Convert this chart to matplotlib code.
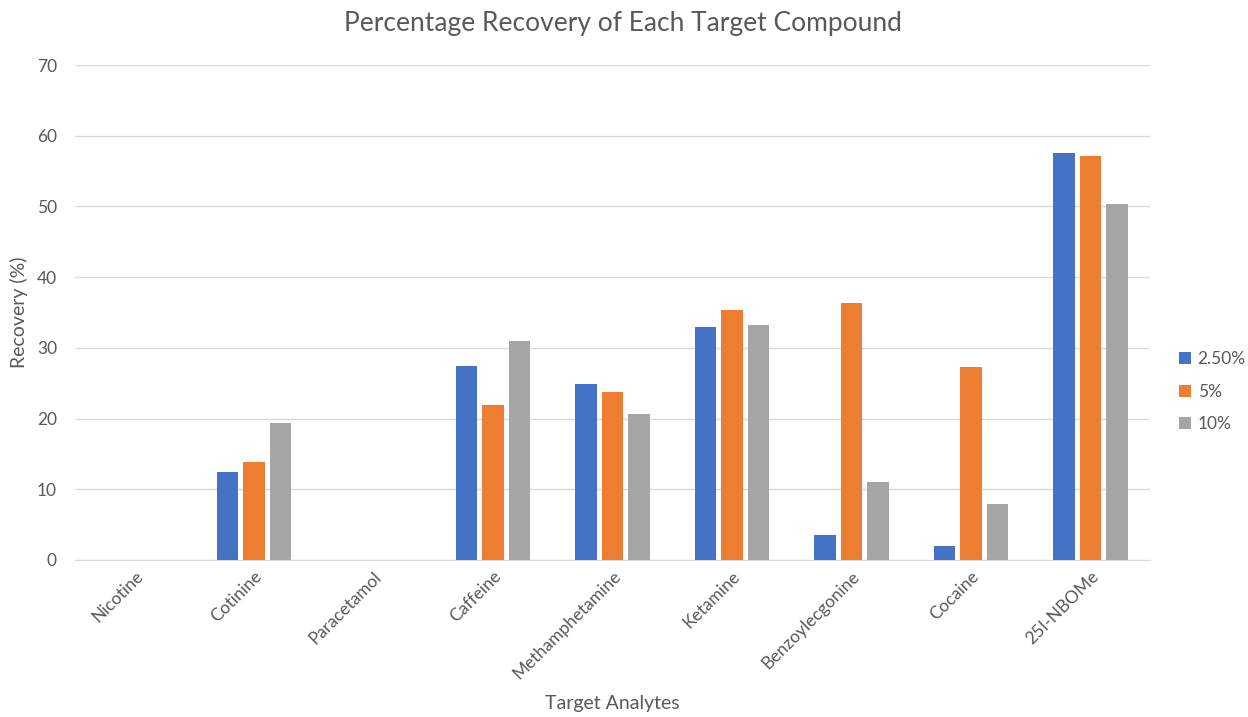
import numpy as np
import matplotlib.pyplot as plt

compounds = ["Nicotine", "Cotinine", "Paracetamol", "Caffeine", "Methamphetamine",
             "Ketamine", "Benzoylecgonine", "Cocaine", "25I-NBOMe"]
rec_2_5 = [0, 12.5, 0, 27.5, 24.9, 33.0, 3.5, 2.0, 57.5]
rec_5 = [0, 13.9, 0, 21.9, 23.7, 35.3, 36.4, 27.3, 57.2]
rec_10 = [0, 19.4, 0, 31.0, 20.6, 33.2, 11.0, 7.9, 50.3]
series_names = ["2.50%", "5%", "10%"]
colors = ["#4472c4", "#ed7d31", "#a5a5a5"]

plt.rcParams['font.family'] = ['Lato', 'DejaVu Sans']
txt = "#595959"

fig = plt.figure(figsize=(12.48, 7.17), dpi=100)
ax = fig.add_axes([75 / 1248, 1 - 560 / 717, 1075 / 1248, 495 / 717])

x = np.arange(len(compounds))
w = 0.18
step = 0.222
for i, (vals, name, c) in enumerate(zip([rec_2_5, rec_5, rec_10], series_names, colors)):
    ax.bar(x + (i - 1) * step, vals, w, color=c, label=name, zorder=3)

ax.set_xlim(-0.5, len(compounds) - 0.5)
ax.set_ylim(0, 70)
ax.set_yticks(range(0, 71, 10))
ax.grid(axis='y', color='#d9d9d9', linewidth=1, zorder=0)
for s in ['top', 'right', 'left']:
    ax.spines[s].set_visible(False)
ax.spines['bottom'].set_color('#d9d9d9')
ax.tick_params(axis='both', length=0, colors=txt, labelsize=12.5)
ax.tick_params(axis='y', pad=13)
ax.set_xticks(x)
ax.set_xticklabels(compounds, rotation=45, ha='right', va='top', rotation_mode='anchor')
ax.tick_params(axis='x', pad=6)

ax.set_ylabel("Recovery (%)", color=txt, fontsize=14)
ax.yaxis.set_label_coords(-0.044, 0.5)
ax.set_xlabel("Target Analytes", color=txt, fontsize=14)
ax.xaxis.set_label_coords(0.5, -0.273)
fig.text(623 / 1248, 1 - 24 / 717, "Percentage Recovery of Each Target Compound",
         color=txt, fontsize=19, ha='center', va='center')

leg = ax.legend(loc='center left', bbox_to_anchor=(1.012, 0.34), frameon=False, fontsize=12.5,
                handlelength=0.7, handleheight=0.7, handletextpad=0.4, labelspacing=0.95)
for t in leg.get_texts():
    t.set_color(txt)

fig.savefig("out.png", dpi=100)
